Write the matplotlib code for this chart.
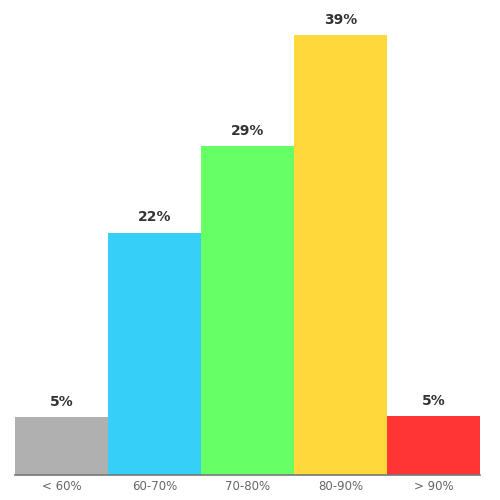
import matplotlib
matplotlib.use('Agg')
from matplotlib import pyplot as plt

categories = ['< 60%', '60-70%', '70-80%', '80-90%', '> 90%']
values = [5.1, 21.5, 29.2, 39.0, 5.2]
labels = ['5%', '22%', '29%', '39%', '5%']
colors = ['#b0b0b0', '#36cff7', '#66ff66', '#ffd83b', '#ff3535']

fig = plt.figure(figsize=(5, 5), dpi=100)
ax = fig.add_axes([0.03, 0.0506, 0.93, 0.9494])

x = range(len(categories))
ax.bar(x, values, width=1.0, color=colors, edgecolor='none')
for i, v in enumerate(values):
    ax.annotate(labels[i], (i, v), xytext=(0, 11), textcoords='offset points',
                ha='center', va='center', fontsize=10, fontweight='bold', color='#333333')

ax.set_xlim(-0.5, 4.5)
ax.set_ylim(0, 42.15)
ax.set_xticks(list(x))
ax.set_xticklabels(categories, fontsize=8.5, color='#666666')
ax.tick_params(axis='x', length=0, pad=4)
ax.set_yticks([])
for s in ['top', 'right', 'left']:
    ax.spines[s].set_visible(False)
ax.spines['bottom'].set_color('#777777')
ax.spines['bottom'].set_linewidth(1.2)

fig.savefig('out.png', dpi=100)
